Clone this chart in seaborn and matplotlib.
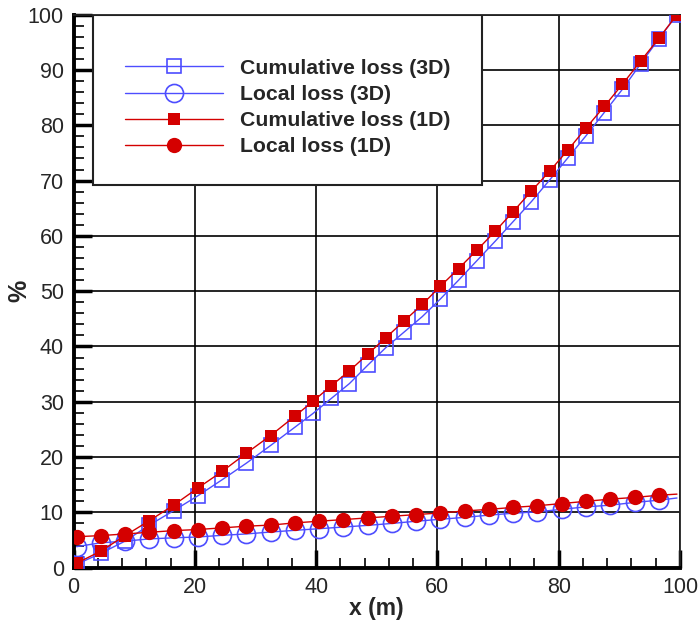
import numpy as np
import matplotlib
matplotlib.use("Agg")
import matplotlib.pyplot as plt
import seaborn as sns
from matplotlib.patches import Rectangle
from matplotlib.ticker import MultipleLocator

sns.set_theme(style="white")
plt.rcParams["font.family"] = ["Liberation Sans", "DejaVu Sans"]

# cumulative loss: step 4 up to 36.5 m, then step 3
x_cum = [0.5, 4.5, 8.5, 12.5, 16.5, 20.5, 24.5, 28.5, 32.5, 36.5,
         39.5, 42.5, 45.5, 48.5, 51.5, 54.5, 57.5, 60.5, 63.5, 66.5, 69.5,
         72.5, 75.5, 78.5, 81.5, 84.5, 87.5, 90.5, 93.5, 96.5, 99.5]
cum_3d = [0.6, 2.6, 4.8, 7.7, 10.3, 13.0, 15.9, 18.9, 22.1, 25.4,
          27.9, 30.6, 33.3, 36.6, 39.8, 42.6, 45.4, 48.6, 52.0, 55.5, 59.0,
          62.6, 66.2, 70.1, 74.1, 78.1, 82.3, 86.5, 91.1, 95.6, 100.0]
cum_1d = [0.8, 3.0, 5.8, 8.5, 11.3, 14.4, 17.4, 20.7, 23.9, 27.4,
          30.1, 32.9, 35.6, 38.6, 41.6, 44.6, 47.6, 50.9, 54.1, 57.4, 60.8,
          64.4, 68.1, 71.7, 75.5, 79.5, 83.4, 87.4, 91.6, 95.7, 100.0]

# local loss (last point has no marker)
x_loc = [0.5, 4.5, 8.5, 12.5, 16.5, 20.5, 24.5, 28.5, 32.5, 36.5, 40.5,
         44.5, 48.5, 52.5, 56.5, 60.5, 64.5, 68.5, 72.5, 76.5, 80.5, 84.5,
         88.5, 92.5, 96.5, 99.5]
loc_3d = [3.8, 4.5, 4.8, 5.2, 5.4, 5.55, 5.85, 6.1, 6.45, 6.75, 7.05,
          7.35, 7.65, 8.0, 8.4, 8.75, 9.1, 9.5, 9.85, 10.1, 10.55, 11.0,
          11.3, 11.8, 12.2, 12.6]
loc_1d = [5.6, 5.8, 6.1, 6.4, 6.7, 6.9, 7.2, 7.5, 7.7, 8.1, 8.4,
          8.7, 9.0, 9.3, 9.6, 9.9, 10.25, 10.55, 10.9, 11.2, 11.6, 12.0,
          12.4, 12.7, 13.1, 13.3]

blue = "#4d4dff"
red = "#d40000"

fig = plt.figure(figsize=(6.99, 6.20), dpi=100)
ax = fig.add_axes([0.1052, 0.0844, 0.8676, 0.8919])

sns.lineplot(x=x_cum, y=cum_3d, ax=ax, color=blue, lw=1.0, marker="s", ms=10,
             mfc="none", mec=blue, mew=1.2, label="Cumulative loss (3D)", zorder=4)
sns.lineplot(x=x_loc, y=loc_3d, ax=ax, color=blue, lw=1.0, marker="o", ms=13,
             mfc="none", mec=blue, mew=1.2, markevery=list(range(len(x_loc) - 1)),
             label="Local loss (3D)", zorder=4)
sns.lineplot(x=x_cum, y=cum_1d, ax=ax, color=red, lw=1.0, marker="s", ms=9,
             mfc=red, mec=red, mew=0, label="Cumulative loss (1D)", zorder=5)
sns.lineplot(x=x_loc, y=loc_1d, ax=ax, color=red, lw=1.0, marker="o", ms=11,
             mfc=red, mec=red, mew=0, markevery=list(range(len(x_loc) - 1)),
             label="Local loss (1D)", zorder=5)

ax.set_xlim(0, 100)
ax.set_ylim(0, 100)
ax.xaxis.set_major_locator(MultipleLocator(20))
ax.xaxis.set_minor_locator(MultipleLocator(4))
ax.yaxis.set_major_locator(MultipleLocator(10))
ax.yaxis.set_minor_locator(MultipleLocator(2))
ax.grid(True, which="major", color="black", lw=1.2)
ax.set_axisbelow(True)

ax.tick_params(which="major", direction="in", length=13, width=2.5, color="black",
               labelsize=15.5, pad=7, bottom=True, left=True, top=False, right=False)
ax.tick_params(which="minor", direction="in", length=7, width=1.2, color="black",
               bottom=True, left=True, top=False, right=False)
for s in ["left", "bottom"]:
    ax.spines[s].set_linewidth(2.8)
    ax.spines[s].set_color("black")
for s in ["top", "right"]:
    ax.spines[s].set_linewidth(1.3)
    ax.spines[s].set_color("#222222")

ax.set_xlabel("x (m)", fontsize=16.5, fontweight="bold", labelpad=-1)
ax.set_ylabel("%", fontsize=18, fontweight="bold", labelpad=-3)

# legend box
box = Rectangle((0.032, 0.692), 0.6415, 0.308, transform=ax.transAxes,
                facecolor="white", edgecolor="#222222", lw=1.5, zorder=6)
ax.add_patch(box)
leg = ax.legend(loc="upper left", bbox_to_anchor=(0.085, 0.92), frameon=False,
                prop={"weight": "bold", "size": 15.3}, handlelength=4.6,
                handletextpad=0.8, labelspacing=0.33, borderpad=0,
                borderaxespad=0)
leg.set_zorder(7)

fig.savefig("out.png", dpi=100)
